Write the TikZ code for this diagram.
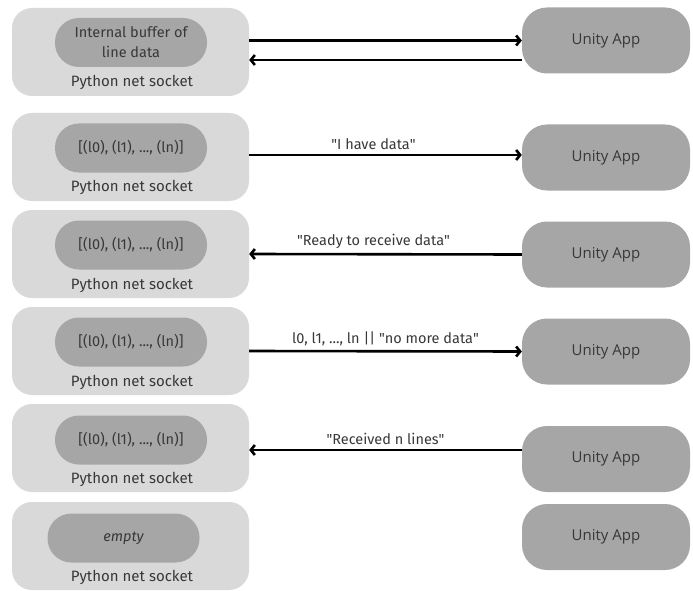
\documentclass[tikz,border=0pt]{standalone}
\usepackage{fontspec}
\setmainfont{Fira Sans}
\newfontfamily\unityfont{Open Sans}
\usepackage{tikz}
\usetikzlibrary{arrows.meta, positioning, calc}
\definecolor{sockgray}{HTML}{D9D9D9}
\definecolor{pillgray}{HTML}{A6A6A6}
\definecolor{unitygray}{HTML}{A6A6A6}
\definecolor{txtgray}{HTML}{383838}

\begin{document}
\begin{tikzpicture}[x=1pt, y=-1pt,
    sockbox/.style={rectangle, rounded corners=20pt, fill=sockgray,
        minimum width=237pt, minimum height=88pt, inner sep=0pt},
    bufpill/.style={rectangle, rounded corners=24pt, fill=pillgray,
        minimum width=152pt, minimum height=49pt, inner sep=0pt,
        text=txtgray, font=\fontsize{14.5}{20}\selectfont, align=center},
    unitybox/.style={rectangle, rounded corners=25pt, fill=unitygray,
        minimum width=168pt, minimum height=66pt, inner sep=0pt,
        text=txtgray, font=\unityfont\fontsize{15}{18}\selectfont},
    socklabel/.style={text=txtgray, font=\fontsize{15}{18}\selectfont, inner sep=0pt},
    msglabel/.style={text=txtgray, font=\fontsize{14.5}{17}\selectfont, inner sep=4.5pt},
    msgarrow/.style={line width=2.6pt, -{Straight Barb[length=4pt, width=10pt]}}]
  \useasboundingbox (0,0) rectangle (693,591);

  % ---- row 1: connection ----
  \node[sockbox] (s1) at (130.5,52) {};
  \node[bufpill] (b1) at (131,42.5) {Internal buffer of\\line data};
  \node[socklabel] (p1) at (132,82) {Python net socket};
  \node[unitybox] (u1) at (606,40.5) {Unity App};
  \draw[msgarrow] (s1.east |- u1.west) -- (u1.west);
  \draw[msgarrow] ([yshift=-19.5pt]u1.west) -- ([yshift=-19.5pt]u1.west -| s1.east);

  % ---- row 2: announce ----
  \node[sockbox] (s2) at (130.5,157) {};
  \node[bufpill] (b2) at (131,148) {[(l0), (l1), ..., (ln)]};
  \node[socklabel] (p2) at (132,187) {Python net socket};
  \node[unitybox] (u2) at (606,157.5) {Unity App};
  \draw[msgarrow] ([yshift=2pt]s2.east) -- ([yshift=2pt]s2.east -| u2.west)
        node[msglabel, midway, above, xshift=-12pt] (m2) {\textquotedbl I have data\textquotedbl};

  % ---- row 3: ready ----
  \node[sockbox] (s3) at (130.5,254) {};
  \node[bufpill] (b3) at (131,245) {[(l0), (l1), ..., (ln)]};
  \node[socklabel] (p3) at (132,285) {Python net socket};
  \node[unitybox] (u3) at (606,254.5) {Unity App};
  \draw[msgarrow] (u3.west) -- (s3.east)
        node[msglabel, midway, above, xshift=-12pt] (m3) {\textquotedbl Ready to receive data\textquotedbl};

  % ---- row 4: send lines ----
  \node[sockbox] (s4) at (130.5,351) {};
  \node[bufpill] (b4) at (131,342) {[(l0), (l1), ..., (ln)]};
  \node[socklabel] (p4) at (132,382) {Python net socket};
  \node[unitybox] (u4) at (606,351.5) {Unity App};
  \draw[msgarrow] (s4.east) -- (u4.west)
        node[msglabel, midway, above] (m4) {l0, l1, ..., ln || \textquotedbl no more data\textquotedbl};

  % ---- row 5: acknowledge ----
  \node[sockbox] (s5) at (130.5,448) {};
  \node[bufpill] (b5) at (131,440) {[(l0), (l1), ..., (ln)]};
  \node[socklabel] (p5) at (132,479) {Python net socket};
  \node[unitybox] (u5) at (606,459) {Unity App};
  \draw[msgarrow] ([yshift=9pt]u5.west) -- ([yshift=9pt]u5.west -| s5.east)
        node[msglabel, midway, above] (m5) {\textquotedbl Received n lines\textquotedbl};

  % ---- row 6: buffer cleared ----
  \node[sockbox] (s6) at (130.5,546) {};
  \node[bufpill] (b6) at (123.5,538) {\itshape empty};
  \node[socklabel] (p6) at (132,577) {Python net socket};
  \node[unitybox] (u6) at (606,537) {Unity App};
\end{tikzpicture}
\end{document}
